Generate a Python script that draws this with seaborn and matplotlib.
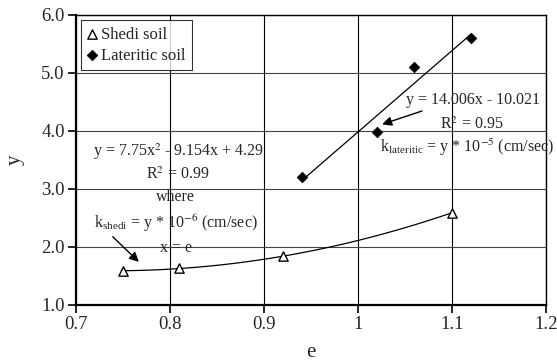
import numpy as np
import pandas as pd
import seaborn as sns
import matplotlib.pyplot as plt

shedi_e = [0.75, 0.81, 0.92, 1.10]
shedi_y = [1.59, 1.63, 1.84, 2.59]
lat_e = [0.94, 1.02, 1.06, 1.12]
lat_y = [3.20, 3.99, 5.10, 5.60]

sns.set_style("white")
plt.rcParams['font.family'] = ['Liberation Serif', 'DejaVu Serif']
plt.rcParams['mathtext.fontset'] = 'stix'

fig = plt.figure(figsize=(5.57, 3.63), dpi=100)
ax = fig.add_axes([0.1364, 0.1598, 0.8436, 0.7989])

# trend lines (fitted to the points, like the spreadsheet trendlines)
p2 = np.polyfit(shedi_e, shedi_y, 2)
xs = np.linspace(shedi_e[0], shedi_e[-1], 60)
sns.lineplot(x=xs, y=np.polyval(p2, xs), color='black', lw=0.9, ax=ax)
p1 = np.polyfit(lat_e, lat_y, 1)
xl = np.array([lat_e[0], lat_e[-1]])
sns.lineplot(x=xl, y=np.polyval(p1, xl), color='black', lw=0.9, ax=ax)

sns.scatterplot(x=shedi_e, y=shedi_y, marker='^', s=45, facecolor='white',
                edgecolor='black', linewidth=1.0, label='Shedi soil', ax=ax, zorder=3)
sns.scatterplot(x=lat_e, y=lat_y, marker='D', s=30, color='black',
                edgecolor='black', label='Lateritic soil', ax=ax, zorder=3)

ax.set_xlim(0.7, 1.2)
ax.set_ylim(1.0, 6.0)
ax.set_xticks([0.7, 0.8, 0.9, 1.0, 1.1, 1.2])
ax.set_xticklabels(['0.7', '0.8', '0.9', '1', '1.1', '1.2'])
ax.set_yticks([1, 2, 3, 4, 5, 6])
ax.set_yticklabels(['1.0', '2.0', '3.0', '4.0', '5.0', '6.0'])
ax.tick_params(labelsize=13.5, length=6, width=1.2, direction='out', color='black',
               bottom=True, left=True, pad=2)
ax.xaxis.grid(True, color='black', lw=0.8)
ax.yaxis.grid(True, color='#444444', lw=0.8)
for s in ax.spines.values():
    s.set_color('black')
    s.set_linewidth(1.0)
ax.spines['left'].set_linewidth(1.6)
ax.spines['bottom'].set_linewidth(1.6)

ax.set_xlabel('e', fontsize=15, labelpad=7)
ax.set_ylabel('y', fontsize=15, labelpad=12)

leg = ax.legend(loc='upper left', fontsize=12, frameon=True, fancybox=False,
                edgecolor='black', handlelength=0.5, handletextpad=0.3,
                borderpad=0.4, labelspacing=0.3, borderaxespad=0.3)
leg.get_frame().set_linewidth(0.8)

fs = 11.5
ax.text(0.8096, 3.64, r'y = 7.75x$^2$ - 9.154x + 4.29', ha='center', va='center', fontsize=fs)
ax.text(0.8085, 3.24, r'R$^2$ = 0.99', ha='center', va='center', fontsize=fs)
ax.text(0.806, 2.86, 'where', ha='center', va='center', fontsize=fs)
ax.text(0.806, 2.41, r'k$\mathregular{_{shedi}}$ = y * 10$^{-6}$ (cm/sec)', ha='center', va='center', fontsize=fs)
ax.text(0.806, 1.98, 'x = e', ha='center', va='center', fontsize=fs)
ax.annotate('', xy=(0.769, 1.71), xytext=(0.737, 2.21),
            arrowprops=dict(arrowstyle='-|>', color='black', lw=1.0, mutation_scale=14))

ax.text(1.122, 4.53, 'y = 14.006x - 10.021', ha='center', va='center', fontsize=fs)
ax.text(1.121, 4.10, r'R$^2$ = 0.95', ha='center', va='center', fontsize=fs)
ax.text(1.116, 3.71, r'k$\mathregular{_{lateritic}}$ = y * 10$^{-5}$ (cm/sec)', ha='center', va='center',
        fontsize=fs, clip_on=False)
ax.annotate('', xy=(1.023, 4.10), xytext=(1.071, 4.36),
            arrowprops=dict(arrowstyle='-|>', color='black', lw=1.0, mutation_scale=14))

fig.savefig('out.png', dpi=100)
